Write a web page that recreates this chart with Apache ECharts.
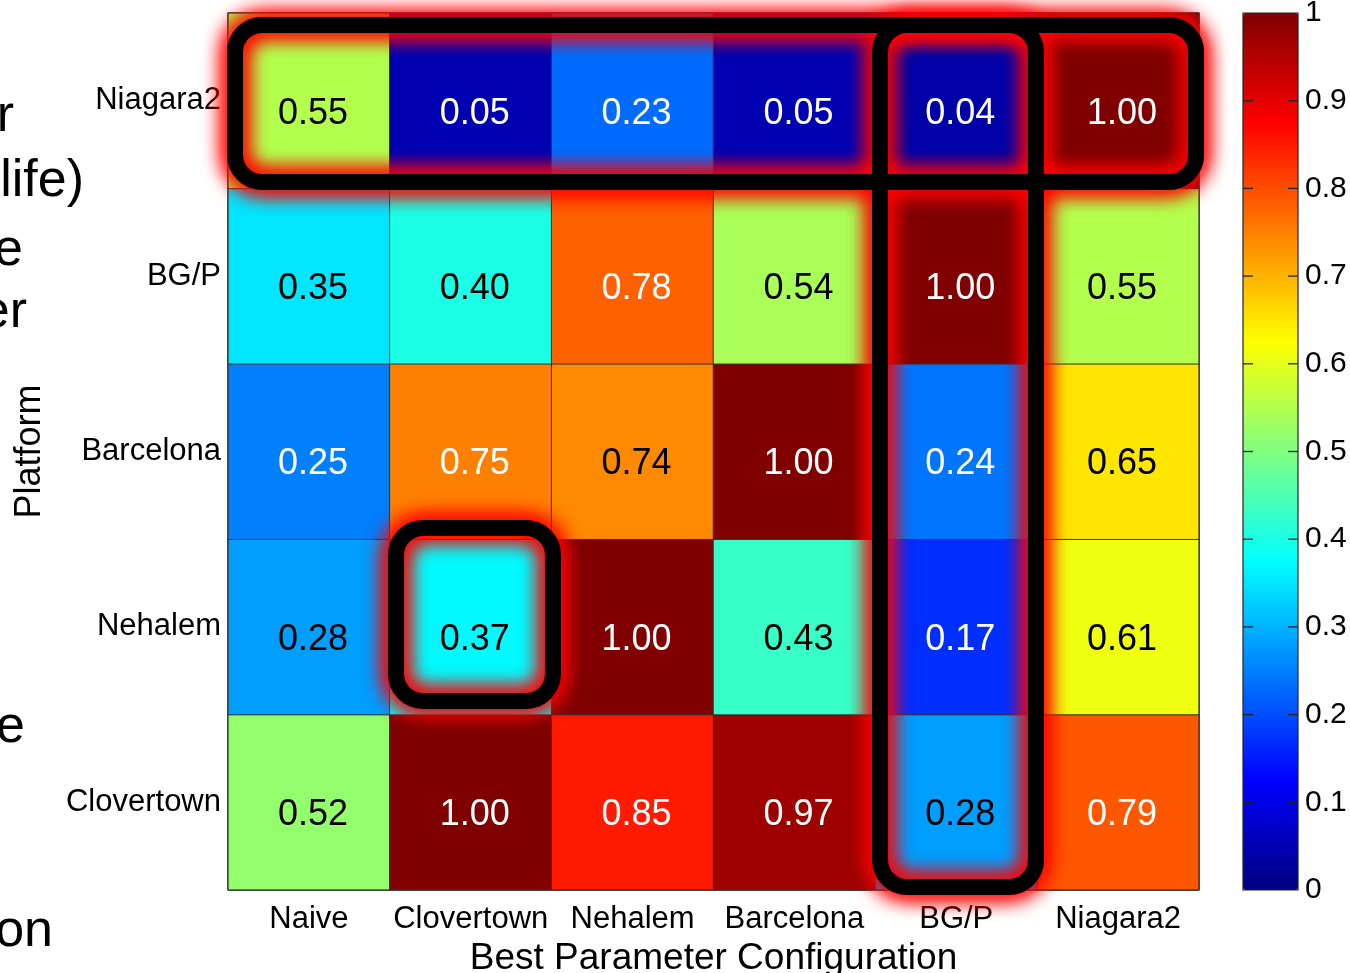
<!DOCTYPE html>
<html><head><meta charset="utf-8">
<script src="https://cdn.jsdelivr.net/npm/echarts@6/dist/echarts.min.js"></script>
<style>html,body{margin:0;padding:0;background:#fff;overflow:hidden}#c{width:1350px;height:973px}</style>
</head><body><div id="c"></div>
<script>
// ---- data ----
const configs = ['Naive', 'Clovertown', 'Nehalem', 'Barcelona', 'BG/P', 'Niagara2'];   // x axis
const platforms = ['Clovertown', 'Nehalem', 'Barcelona', 'BG/P', 'Niagara2'];           // y axis, bottom -> top
const rowNiagara2   = [0.55, 0.05, 0.23, 0.05, 0.04, 1.00];
const rowBGP        = [0.35, 0.40, 0.78, 0.54, 1.00, 0.55];
const rowBarcelona  = [0.25, 0.75, 0.74, 1.00, 0.24, 0.65];
const rowNehalem    = [0.28, 0.37, 1.00, 0.43, 0.17, 0.61];
const rowClovertown = [0.52, 1.00, 0.85, 0.97, 0.28, 0.79];
const colorbarMin = 0, colorbarMax = 1, colorbarStep = 0.1;
const colorbarTicks = [0.1, 0.2, 0.3, 0.4, 0.5, 0.6, 0.7, 0.8, 0.9];
const highlights = [
  { cols: ['BG/P', 'BG/P'], rows: ['Niagara2', 'Clovertown'] },
  { cols: ['Naive', 'Niagara2'], rows: ['Niagara2', 'Niagara2'] },
  { cols: ['Clovertown', 'Clovertown'], rows: ['Nehalem', 'Nehalem'] }
];
const sideWords = ['r', 'life)', 'e', 'er', 'e', 'on'];

// ---- styling / layout ----
const FONT = "'Liberation Sans', Arial, Helvetica, sans-serif";
const jet = ['#000080', '#0000ff', '#0080ff', '#00ffff', '#80ff80', '#ffff00', '#ff8000', '#ff0000', '#800000'];
const boxInsets = [[4.7, 12, 1.2, 3], [7, 12, 3, 6.4], [6.2, -11.2, -1.3, 13.6]]; // l,t,r,b
const sideLayout = [[14, 132], [84, 197], [23, 266], [27, 328], [25, 743], [53, 947]]; // right edge, baseline

const rows = { 'Niagara2': rowNiagara2, 'BG/P': rowBGP, 'Barcelona': rowBarcelona, 'Nehalem': rowNehalem, 'Clovertown': rowClovertown };
const data = [];
platforms.forEach((p, yi) => rows[p].forEach((v, xi) => {
  data.push({ value: [xi, yi, v], label: { color: (v <= 0.25 || v >= 0.75) ? '#fff' : '#000' } });
}));

const chart = echarts.init(document.getElementById('c'), null, { renderer: 'canvas' });
chart.setOption({
  animation: false,
  backgroundColor: '#fff',
  textStyle: { fontFamily: FONT },
  grid: [
    { left: 228, top: 13, width: 971, height: 877, show: true, borderColor: '#333', borderWidth: 1, z: 5,
      outerBoundsMode: 'none', containLabel: false },
    { left: 1243, top: 13, width: 55, height: 877, show: true, borderColor: '#222', borderWidth: 1.2, z: 10,
      outerBoundsMode: 'none', containLabel: false }
  ],
  xAxis: [
    { type: 'category', gridIndex: 0, data: configs, axisLine: { show: false }, axisTick: { show: false },
      splitLine: { show: false },
      axisLabel: { interval: 0, fontSize: 31, color: '#000', margin: 14, fontFamily: FONT },
      name: 'Best Parameter Configuration', nameLocation: 'middle', nameGap: 43,
      nameTextStyle: { fontSize: 37, color: '#000', fontFamily: FONT } },
    { type: 'value', gridIndex: 1, show: false, min: 0, max: 1 }
  ],
  yAxis: [
    { type: 'category', gridIndex: 0, data: platforms, axisLine: { show: false }, axisTick: { show: false },
      splitLine: { show: false },
      axisLabel: { interval: 0, fontSize: 31, color: '#000', margin: 7, fontFamily: FONT, padding: [6, 0, 0, 0] },
      name: 'Platform', nameLocation: 'middle', nameGap: 180,
      nameTextStyle: { fontSize: 36, color: '#000', fontFamily: FONT } },
    { type: 'value', gridIndex: 1, position: 'right', min: colorbarMin, max: colorbarMax, interval: colorbarStep,
      axisLine: { show: false }, axisTick: { show: false }, splitLine: { show: false }, z: 10,
      axisLabel: { fontSize: 30, color: '#000', margin: 7, fontFamily: FONT, padding: [5, 0, 0, 0] } }
  ],
  visualMap: {
    type: 'continuous', min: colorbarMin, max: colorbarMax, seriesIndex: 0, calculable: false,
    orient: 'vertical', left: 1243, top: 13, itemWidth: 55, itemHeight: 877, padding: 0,
    text: null, hoverLink: false, inRange: { color: jet }, z: 4
  },
  series: [{
    type: 'heatmap', xAxisIndex: 0, yAxisIndex: 0, data: data,
    itemStyle: { borderColor: '#333', borderWidth: 1 },
    label: { show: true, fontSize: 36, fontFamily: FONT, offset: [4, 13],
      formatter: p => p.value[2].toFixed(2) },
    emphasis: { disabled: true }
  }, {
    type: 'custom', xAxisIndex: 1, yAxisIndex: 1, z: 20, silent: true,
    data: colorbarTicks.map(t => [0, t]),
    renderItem: (params, api) => {
      const y = api.coord([0, api.value(1)])[1];
      const cs = params.coordSys;
      const st = { stroke: '#222', lineWidth: 1.3 };
      return { type: 'group', children: [
        { type: 'line', shape: { x1: cs.x, y1: y, x2: cs.x + 10, y2: y }, style: st },
        { type: 'line', shape: { x1: cs.x + cs.width - 10, y1: y, x2: cs.x + cs.width, y2: y }, style: st }
      ] };
    }
  }]
});

// ---- annotations (boxes with red glow, cropped slide text) ----
const a = chart.convertToPixel({ gridIndex: 0 }, [0, 0]);
const b = chart.convertToPixel({ gridIndex: 0 }, [1, 1]);
const cw = b[0] - a[0], ch = a[1] - b[1];
const elements = [];
const boxes = highlights.map((h, i) => {
  const p1 = chart.convertToPixel({ gridIndex: 0 }, [configs.indexOf(h.cols[0]), platforms.indexOf(h.rows[0])]);
  const p2 = chart.convertToPixel({ gridIndex: 0 }, [configs.indexOf(h.cols[1]), platforms.indexOf(h.rows[1])]);
  const ins = boxInsets[i];
  const x0 = Math.min(p1[0], p2[0]) - cw / 2 + ins[0];
  const x1 = Math.max(p1[0], p2[0]) + cw / 2 - ins[2];
  const y0 = Math.min(p1[1], p2[1]) - ch / 2 + ins[1];
  const y1 = Math.max(p1[1], p2[1]) + ch / 2 - ins[3];
  return { x: x0, y: y0, width: x1 - x0, height: y1 - y0, r: 27 };
});
boxes.forEach((bx) => {
  for (let k = 0; k < 3; k++) {
    elements.push({ type: 'rect', silent: true, z: 100,
      shape: bx,
      style: { fill: 'none', stroke: '#ff0000', lineWidth: 16, shadowBlur: 22, shadowColor: 'rgba(255,0,0,1)' } });
  }
});
boxes.forEach(bx => {
  elements.push({ type: 'rect', silent: true, z: 101, shape: bx,
    style: { fill: 'none', stroke: '#000', lineWidth: 16 } });
});
sideWords.forEach((w, i) => {
  elements.push({ type: 'text', silent: true, z: 50,
    style: { text: w, x: sideLayout[i][0], y: sideLayout[i][1] + 11, font: '52px ' + FONT,
      fill: '#000', align: 'right', verticalAlign: 'bottom' } });
});
chart.setOption({ graphic: { elements: elements } });
</script></body></html>
